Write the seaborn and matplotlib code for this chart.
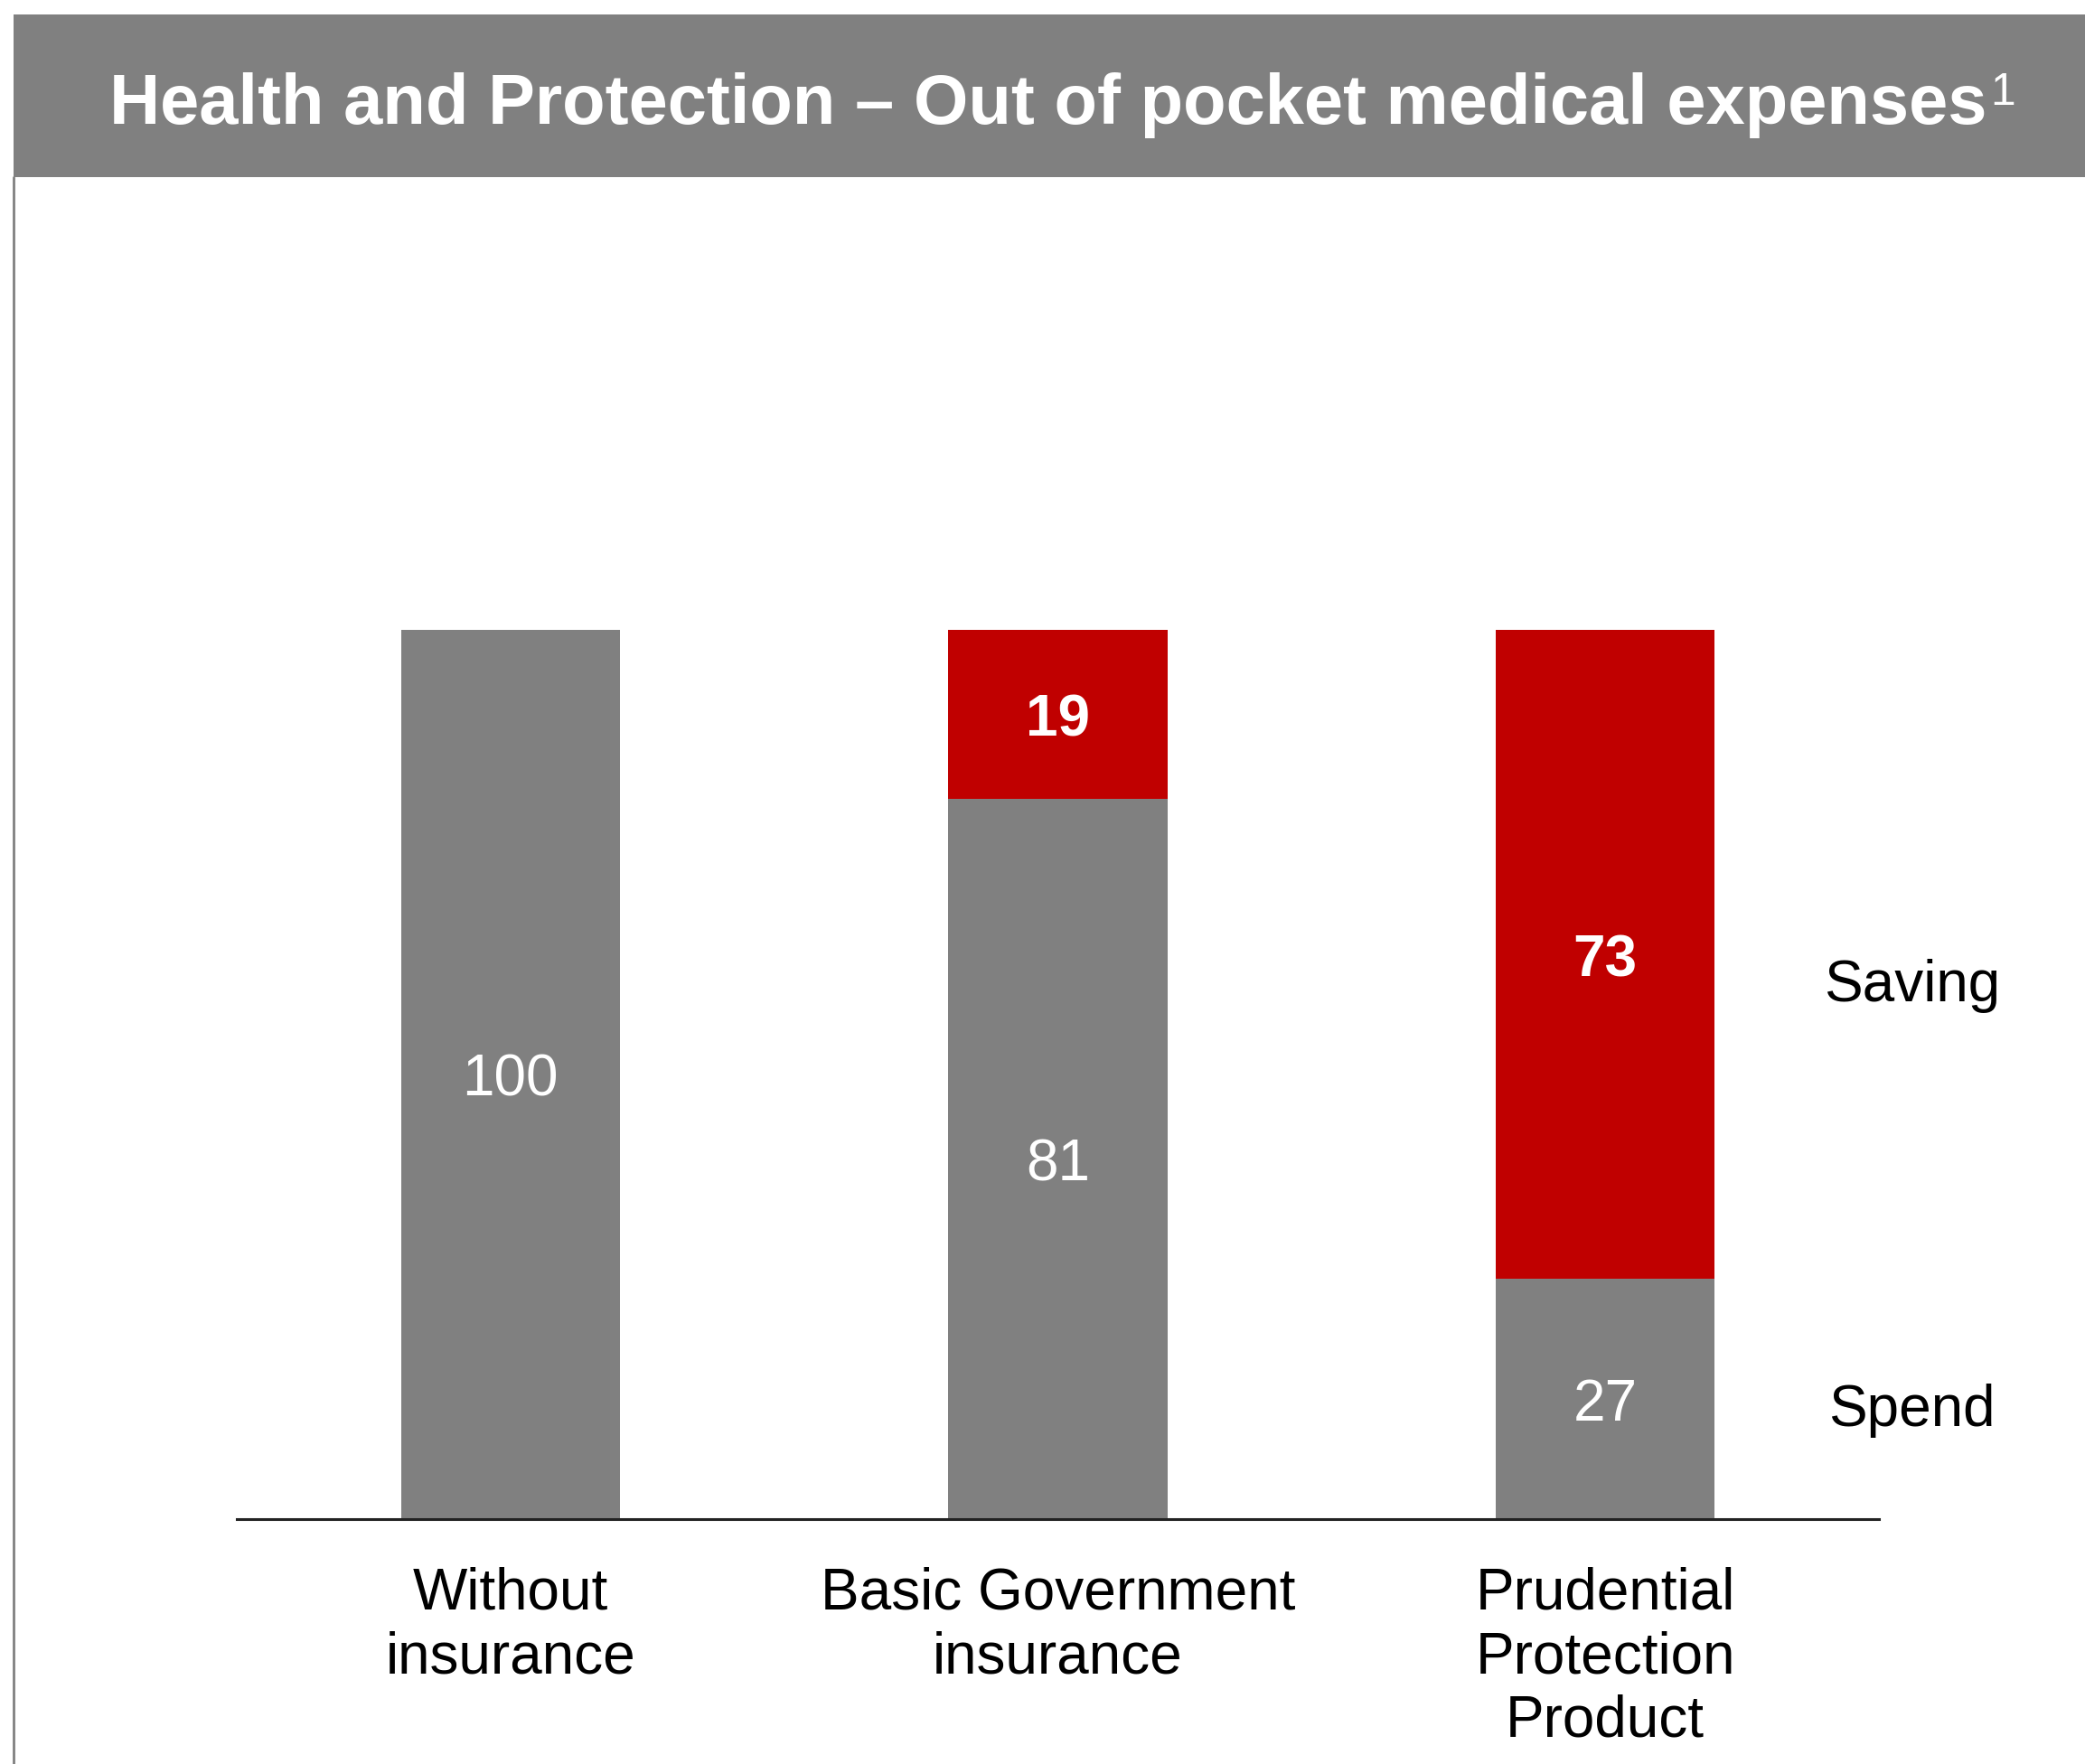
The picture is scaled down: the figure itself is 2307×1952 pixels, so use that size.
import matplotlib
matplotlib.use("Agg")
import matplotlib.pyplot as plt
import seaborn as sns
import pandas as pd
from matplotlib.patches import Rectangle
from matplotlib.lines import Line2D
from matplotlib.transforms import offset_copy

# Data
categories = ["Without\ninsurance", "Basic Government\ninsurance", "Prudential\nProtection\nProduct"]
spend = [100, 81, 27]
saving = [0, 19, 73]
segment_names = ["Saving", "Spend"]

GREY = "#808080"
RED = "#C00000"

sns.set_theme(style="white")
plt.rcParams["font.family"] = ["Liberation Sans", "DejaVu Sans"]

df = pd.DataFrame({
    "category": categories,
    "spend": spend,
    "saving": saving,
})
df["total"] = df["spend"] + df["saving"]

W, H = 2307, 1952
fig = plt.figure(figsize=(W / 100, H / 100), dpi=100)
fig.patch.set_facecolor("white")

# Title banner with a thin rule down the left side
fig.patches.append(Rectangle((15 / W, 1 - 196 / H), 1 - 15 / W, (196 - 16) / H,
                             transform=fig.transFigure, facecolor=GREY,
                             edgecolor="none", zorder=0))
fig.lines.append(Line2D([15 / W, 15 / W], [0, 1 - 196 / H], transform=fig.transFigure,
                        color=GREY, linewidth=2))
title = fig.text(1160 / W, 1 - 137 / H,
                 "Health and Protection – Out of pocket medical expenses",
                 ha="center", va="baseline", color="white", fontsize=56, fontweight="bold")
fig.canvas.draw()
tb = title.get_window_extent()
fig.text((tb.x1 + 3) / W, 1 - 116 / H, "1", ha="left", va="baseline",
         color="white", fontsize=36)

ax = fig.add_axes([262 / W, 271 / H, 1817 / W, 984 / H])

# Totals in red, spend drawn over them in grey -> stacked look
sns.barplot(data=df, x="category", y="total", color=RED, width=0.4,
            linewidth=0, saturation=1, ax=ax)
sns.barplot(data=df, x="category", y="spend", color=GREY, width=0.4,
            linewidth=0, saturation=1, ax=ax)

ax.set_xlim(-0.5, 2.5)
ax.set_ylim(0, 100)
ax.set_xlabel("")
ax.set_ylabel("")
ax.set_yticks([])
for s in ["top", "left", "right"]:
    ax.spines[s].set_visible(False)
ax.spines["bottom"].set_color("#222222")
ax.spines["bottom"].set_linewidth(2.2)
ax.tick_params(axis="x", length=0, pad=38, labelsize=46, labelcolor="black")
for lbl in ax.get_xticklabels():
    lbl.set_linespacing(1.22)

# Value labels
down = offset_copy(ax.transData, fig=fig, x=0, y=-5, units="points")
for i, (sp, sv) in enumerate(zip(spend, saving)):
    ax.text(i, sp / 2, f"{sp}", ha="center", va="center", color="white",
            fontsize=46, transform=down)
    if sv > 0:
        ax.text(i, sp + sv / 2, f"{sv}", ha="center", va="center", color="white",
                fontsize=46, fontweight="bold", transform=down)

# Segment names on the right
ax.text(2.56, 60, segment_names[0], ha="center", va="center", fontsize=46,
        color="black", clip_on=False)
ax.text(2.56, 12.2, segment_names[1], ha="center", va="center", fontsize=46,
        color="black", clip_on=False)

fig.savefig("out.png", dpi=100, facecolor="white")
